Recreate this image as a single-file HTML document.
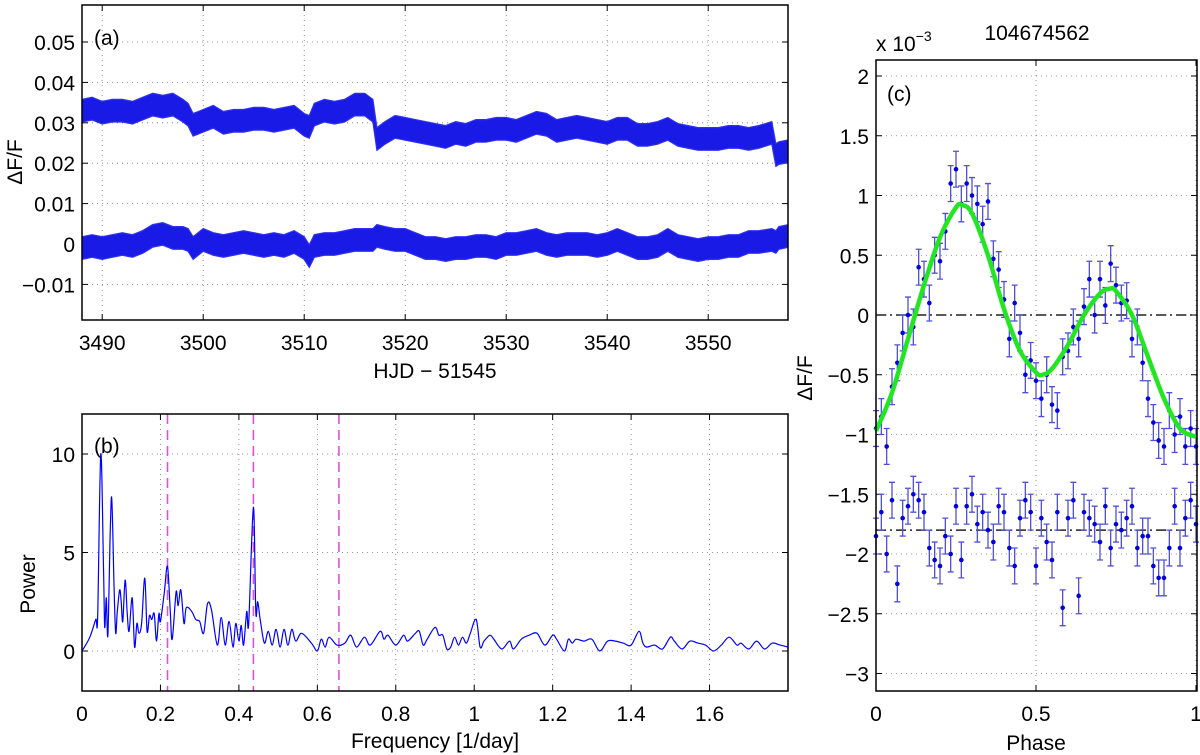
<!DOCTYPE html>
<html><head><meta charset="utf-8">
<style>
html,body{margin:0;padding:0;background:#fff;}
svg{display:block;font-family:"Liberation Sans",sans-serif;}
</style></head>
<body>
<svg id="fig" width="1200" height="755" viewBox="0 0 1200 755" xmlns="http://www.w3.org/2000/svg"></svg>
<script>
// ---------- Panel (a) data: light curves (day, centre value, band half-width) ----------
const lcDays = [3488,3489,3490,3491,3492,3493,3494,3495,3496,3497,3498,3498.5,3499,3500,3501,3502,3503,3504,3505,3506,3507,3508,3509,3510,3510.5,3511,3512,3513,3514,3515,3516,3516.8,3517.2,3518,3519,3520,3521,3522,3523,3524,3525,3526,3527,3528,3529,3530,3531,3532,3533,3534,3535,3536,3537,3538,3539,3540,3541,3542,3543,3544,3545,3546,3547,3548,3549,3550,3551,3552,3553,3554,3555,3556.3,3556.7,3557,3558];
const lcUpper = [0.0330,0.0335,0.0325,0.0330,0.0330,0.0325,0.0335,0.0345,0.0340,0.0345,0.0330,0.0320,0.0295,0.0305,0.0315,0.0300,0.0305,0.0305,0.0310,0.0310,0.0305,0.0310,0.0315,0.0295,0.0290,0.0320,0.0330,0.0325,0.0330,0.0345,0.0345,0.0330,0.0260,0.0275,0.0290,0.0285,0.0280,0.0275,0.0270,0.0265,0.0275,0.0270,0.0280,0.0280,0.0285,0.0285,0.0280,0.0290,0.0300,0.0295,0.0280,0.0285,0.0290,0.0285,0.0280,0.0275,0.0285,0.0285,0.0270,0.0270,0.0275,0.0285,0.0270,0.0265,0.0260,0.0260,0.0260,0.0265,0.0265,0.0260,0.0265,0.0275,0.0220,0.0225,0.0230];
const lcLower = [-0.0010,-0.0005,-0.0010,-0.0005,0.0000,-0.0005,0.0005,0.0020,0.0025,0.0015,0.0015,0.0010,-0.0010,0.0010,0.0000,-0.0005,0.0000,0.0005,0.0000,-0.0005,0.0000,-0.0005,0.0005,-0.0010,-0.0030,-0.0005,0.0000,0.0000,0.0005,0.0010,0.0010,0.0010,0.0020,0.0015,0.0010,0.0010,0.0000,-0.0010,-0.0010,-0.0015,-0.0010,-0.0010,-0.0005,-0.0005,-0.0010,0.0000,0.0000,0.0005,0.0010,0.0000,-0.0005,0.0000,0.0000,0.0000,-0.0005,0.0000,0.0010,0.0000,-0.0010,-0.0010,-0.0005,0.0010,-0.0005,-0.0010,-0.0015,-0.0010,-0.0010,-0.0005,-0.0005,0.0005,0.0005,0.0010,0.0005,0.0015,0.0020];
const lcHalfWidth = 0.0028;
const aXTicks = [3490,3500,3510,3520,3530,3540,3550];
const aYTicks = [-0.01,0,0.01,0.02,0.03,0.04,0.05];
const aYLabels = ["\u22120.01","0","0.01","0.02","0.03","0.04","0.05"];

// ---------- Panel (b) data: periodogram ----------
const pFreq = [0,0.02,0.035,0.04,0.048,0.055,0.058,0.062,0.066,0.072,0.076,0.082,0.086,0.09,0.096,0.1,0.104,0.11,0.115,0.12,0.128,0.134,0.14,0.145,0.152,0.16,0.166,0.172,0.178,0.184,0.19,0.196,0.2,0.21,0.218,0.225,0.23,0.24,0.245,0.252,0.26,0.266,0.28,0.29,0.3,0.31,0.32,0.33,0.345,0.355,0.365,0.375,0.385,0.392,0.4,0.406,0.412,0.42,0.425,0.437,0.443,0.448,0.455,0.465,0.475,0.485,0.495,0.505,0.515,0.525,0.535,0.545,0.56,0.585,0.6,0.61,0.62,0.63,0.65,0.67,0.685,0.7,0.72,0.735,0.76,0.77,0.78,0.8,0.82,0.83,0.85,0.86,0.87,0.88,0.9,0.91,0.92,0.93,0.94,0.95,0.96,0.97,0.98,0.99,1.005,1.015,1.025,1.04,1.05,1.07,1.09,1.1,1.12,1.14,1.16,1.18,1.2,1.21,1.23,1.24,1.25,1.26,1.28,1.3,1.32,1.34,1.36,1.38,1.4,1.42,1.43,1.44,1.46,1.48,1.5,1.51,1.53,1.55,1.57,1.59,1.61,1.63,1.65,1.67,1.68,1.7,1.72,1.74,1.76,1.78,1.8];
const pPower = [0,0.7,1.6,1.8,10.0,4,1.2,2.7,0.8,6,7.7,3,0.9,2,3.1,2.5,1.5,3.6,2,1,2.7,0.2,1.4,0.9,1.4,3.7,1,1.8,1.6,1.9,0.5,1.9,1.5,3.0,4.3,2,0.6,3,2.3,3.1,1.4,2.2,2,1.6,1.5,0.9,2.4,2.1,0.3,1.7,0.3,1.5,0.2,1.4,0.5,1.3,0.3,2,1.4,7.3,2,2.5,1.5,0.4,1,0.3,1.1,0.2,1.1,0.3,1.1,0.5,0.9,0.4,0,0.6,0.2,0.7,0.3,0.4,0.8,0.2,0.7,0.3,1,0.6,0.8,0.3,0.8,0.5,0.9,1.0,0.3,0.6,1.2,0.8,0.8,0.1,0.2,0.7,0.3,0.7,0.4,0.9,1.6,0.2,0.5,0.8,0.6,0.1,0.5,0.1,0.6,0.8,0.9,0.3,0.8,0.6,0.0,0.6,0.4,0.6,0.5,0.6,0.0,0.5,0.5,0.4,0.3,1.0,0.4,0.2,0.3,0.1,0.7,0.5,0.1,0.5,0.4,0.3,0.0,0.3,0.7,0.3,0.4,0.1,0.5,0.1,0.4,0.3,0.2];
const pMarkers = [0.218,0.437,0.655];
const bXTicks = [0,0.2,0.4,0.6,0.8,1,1.2,1.4,1.6];
const bXLabels = ["0","0.2","0.4","0.6","0.8","1","1.2","1.4","1.6"];
const bYTicks = [0,5,10];

// ---------- Panel (c) data: phase-folded ----------
const phUpper = [-0.95,-0.85,-1.1,-0.6,-0.4,-0.15,0.0,-0.1,0.4,0.3,0.1,0.5,0.45,0.7,1.1,1.22,0.93,1.1,1.0,0.93,0.76,0.95,0.47,0.38,0.13,-0.2,0.1,-0.15,-0.5,-0.38,-0.55,-0.7,-0.5,-0.75,-0.8,-0.35,-0.3,-0.1,-0.2,0.07,0.3,0.0,0.3,0.08,0.43,0.25,0.1,0.12,-0.2,-0.1,-0.4,-0.7,-0.9,-1.05,-1.1,-0.8,-1.0,-0.85,-1.1,-0.95,-1.1];
const phLower = [-1.85,-1.65,-2.0,-1.55,-2.25,-1.7,-1.6,-1.5,-1.55,-1.65,-1.95,-2.05,-2.1,-1.85,-2.0,-1.6,-2.05,-1.6,-1.5,-1.75,-1.65,-1.8,-1.9,-1.6,-1.65,-1.95,-2.1,-1.7,-1.55,-1.65,-2.1,-1.7,-1.9,-2.05,-1.65,-2.45,-1.7,-1.55,-2.35,-1.65,-1.7,-1.75,-1.9,-1.6,-1.95,-1.75,-1.8,-1.7,-1.6,-1.95,-1.85,-1.85,-2.1,-2.2,-2.2,-1.95,-1.6,-1.95,-1.7,-1.55,-1.75];
const phErr = 0.15;
const fitPhase = [0,0.05,0.1,0.15,0.2,0.25,0.27,0.3,0.35,0.4,0.45,0.5,0.52,0.55,0.6,0.65,0.7,0.73,0.75,0.8,0.85,0.9,0.95,1.0];
const fitValue = [-0.97,-0.65,-0.2,0.25,0.65,0.9,0.92,0.85,0.5,0.05,-0.3,-0.48,-0.5,-0.45,-0.25,0.0,0.18,0.22,0.2,0.0,-0.35,-0.7,-0.95,-1.02];
const refLevels = [0,-1.8];
const cXTicks = [0,0.5,1];
const cYTicks = [-3,-2.5,-2,-1.5,-1,-0.5,0,0.5,1,1.5,2];
const cYLabels = ["\u22123","\u22122.5","\u22122","\u22121.5","\u22121","\u22120.5","0","0.5","1","1.5","2"];

// ---------- helpers ----------
const NS = "http://www.w3.org/2000/svg";
const svg = document.getElementById("fig");
const FS = 21;
function mk(tag, attrs, parent) {
  const e = document.createElementNS(NS, tag);
  for (const k in attrs) e.setAttribute(k, attrs[k]);
  (parent || svg).appendChild(e);
  return e;
}
function txt(s, x, y, size, anchor, parent, rot) {
  const t = mk("text", {x: x, y: y, "font-size": size, "text-anchor": anchor || "middle", fill: "#000"}, parent);
  if (rot) t.setAttribute("transform", "rotate(" + rot + " " + x + " " + y + ")");
  t.textContent = s;
  return t;
}
function scale(d0, d1, r0, r1) { return v => r0 + (v - d0) / (d1 - d0) * (r1 - r0); }
function smoothPath(P) {
  let d = "M" + P[0][0].toFixed(1) + "," + P[0][1].toFixed(1);
  for (let i = 0; i < P.length - 1; i++) {
    const p0 = P[Math.max(0, i - 1)], p1 = P[i], p2 = P[i + 1], p3 = P[Math.min(P.length - 1, i + 2)];
    d += " C" + (p1[0] + (p2[0] - p0[0]) / 6).toFixed(1) + "," + (p1[1] + (p2[1] - p0[1]) / 6).toFixed(1) + " " + (p2[0] - (p3[0] - p1[0]) / 6).toFixed(1) + "," + (p2[1] - (p3[1] - p1[1]) / 6).toFixed(1) + " " + p2[0].toFixed(1) + "," + p2[1].toFixed(1);
  }
  return d;
}

function axesFrame(g, L, T, R, B, xs, ys, xTicks, yTicks, xLabels, yLabels, name) {
  const grid = mk("g", {}, g);
  
  
  xTicks.forEach(v => { const x = xs(v); mk("line", {x1: x, x2: x, y1: T, y2: B, stroke: "#777", "stroke-width": 0.8, "stroke-dasharray": "1,4"}, grid); });
  yTicks.forEach(v => { const y = ys(v); mk("line", {x1: L, x2: R, y1: y, y2: y, stroke: "#777", "stroke-width": 0.8, "stroke-dasharray": "1,4"}, grid); });
  const xa = mk("g", {}, g);
  
  
  xTicks.forEach((v, i) => {
    const x = xs(v);
    mk("line", {x1: x, x2: x, y1: B, y2: B - 6, stroke: "#000", "stroke-width": 1}, xa);
    mk("line", {x1: x, x2: x, y1: T, y2: T + 6, stroke: "#000", "stroke-width": 1}, xa);
    if (xLabels) txt(xLabels[i], x, B + 30, FS, "middle", xa);
  });
  const ya = mk("g", {}, g);
  
  
  yTicks.forEach((v, i) => {
    const y = ys(v);
    mk("line", {x1: L, x2: L + 6, y1: y, y2: y, stroke: "#000", "stroke-width": 1}, ya);
    mk("line", {x1: R, x2: R - 6, y1: y, y2: y, stroke: "#000", "stroke-width": 1}, ya);
    if (yLabels) txt(yLabels[i], L - 7, y + 8, FS, "end", ya);
  });
}
function frame(g, L, T, R, B, name) {
  const f = mk("rect", {x: L, y: T, width: R - L, height: B - T, fill: "none", stroke: "#000", "stroke-width": 1.5}, g);
  
  
}

// ---------- Panel (a) ----------
(function () {
  const L = 82, T = 5, R = 788, B = 320;
  const g = mk("g", {});
  
  
  const xs = scale(3488.0, 3557.9, L, R), ys = scale(0, 0.01, 244, 203.6);
  axesFrame(g, L, T, R, B, xs, ys, aXTicks, aYTicks, aXTicks.map(String), aYLabels, "panel-a");
  const cp = mk("clipPath", {id: "clipA"}, g);
  mk("rect", {x: L, y: T, width: R - L, height: B - T}, cp);
  [[lcUpper, "light-curve-upper"], [lcLower, "light-curve-lower"]].forEach(([arr, nm]) => {
    let top = "", bot = "";
    lcDays.forEach((d, i) => { top += xs(d).toFixed(1) + "," + ys(arr[i] + lcHalfWidth).toFixed(1) + " "; });
    for (let i = lcDays.length - 1; i >= 0; i--) bot += xs(lcDays[i]).toFixed(1) + "," + ys(arr[i] - lcHalfWidth).toFixed(1) + " ";
    const band = mk("polygon", {points: top + bot, fill: "#1a1ae6", stroke: "#3030f0", "stroke-width": 1.2, "clip-path": "url(#clipA)"}, g);
    
    
  });
  frame(g, L, T, R, B, "panel-a");
  const lab = txt("(a)", 94, 45, FS, "start", g);  
  const xl = txt("HJD \u2212 51545", 435, 378, FS, "middle", g);  
  const yl = txt("\u0394F/F", 22, 162, FS, "middle", g, -90);  
})();

// ---------- Panel (b) ----------
(function () {
  const L = 82, T = 414, R = 788, B = 691;
  const g = mk("g", {});
  
  
  const xs = scale(0, 1.8, L, R), ys = scale(0, 10, 651, 454);
  axesFrame(g, L, T, R, B, xs, ys, bXTicks, bYTicks, bXLabels, bYTicks.map(String), "panel-b");
  pMarkers.forEach(f => {
    const l = mk("line", {x1: xs(f), x2: xs(f), y1: T, y2: B, stroke: "#e050e0", "stroke-width": 1.6, "stroke-dasharray": "10,6"}, g);
    
    
  });
  const P = pFreq.map((f, i) => [xs(f), ys(pPower[i])]);
  const pl = mk("path", {d: smoothPath(P), fill: "none", stroke: "#0000ff", "stroke-width": 1.2, "stroke-linejoin": "round"}, g);
  
  
  frame(g, L, T, R, B, "panel-b");
  const lab = txt("(b)", 94, 453, FS, "start", g);  
  const xl = txt("Frequency [1/day]", 435, 748, FS, "middle", g);  
  const yl = txt("Power", 35, 584, FS, "middle", g, -90);  
})();

// ---------- Panel (c) ----------
(function () {
  const L = 876, T = 60, R = 1197, B = 691;
  const g = mk("g", {});
  
  
  const xs = scale(0, 1, L, 1196), ys = scale(0, 1, 315, 195.5);
  axesFrame(g, L, T, R, B, xs, ys, cXTicks, cYTicks, ["0","0.5","1"], cYLabels, "panel-c");
  refLevels.forEach(v => {
    const l = mk("line", {x1: L, x2: R, y1: ys(v), y2: ys(v), stroke: "#222", "stroke-width": 1.5, "stroke-dasharray": "10,4,2,4"}, g);
    
    
  });
  [[phUpper, "folded-points-upper"], [phLower, "folded-points-lower"]].forEach(([arr, nm]) => {
    const sg = mk("g", {}, g);
    
    
    const n = arr.length - 1;
    arr.forEach((v, i) => {
      const x = xs(i / n), y0 = ys(v + phErr), y1 = ys(v - phErr), y = ys(v);
      const eb = mk("path", {d: "M" + x + "," + y0 + "V" + y1 + "M" + (x - 3) + "," + y0 + "H" + (x + 3) + "M" + (x - 3) + "," + y1 + "H" + (x + 3), stroke: "#5050d8", "stroke-width": 1.3, fill: "none"}, sg);
      
      
      const c = mk("circle", {cx: x, cy: y, r: 2.3, fill: "#0000e0"}, sg);
      
      
    });
  });
  const P = fitPhase.map((p, i) => [xs(p), ys(fitValue[i])]);
  const fit = mk("path", {d: smoothPath(P), fill: "none", stroke: "#22e622", "stroke-width": 4.5}, g);
  
  
  frame(g, L, T, R, B, "panel-c");
  const lab = txt("(c)", 887, 101, FS, "start", g);  
  const ex = mk("text", {x: 876, y: 51, "font-size": FS, fill: "#000"}, g);
  
  
  ex.innerHTML = 'x 10<tspan dy="-10" font-size="14">\u22123</tspan>';
  const ti = txt("104674562", 1037, 40, FS, "middle", g);  
  const xl = txt("Phase", 1036, 750, FS, "middle", g);  
  const yl = txt("\u0394F/F", 812, 378, FS, "middle", g, -90);  
})();
</script>
</body></html>
